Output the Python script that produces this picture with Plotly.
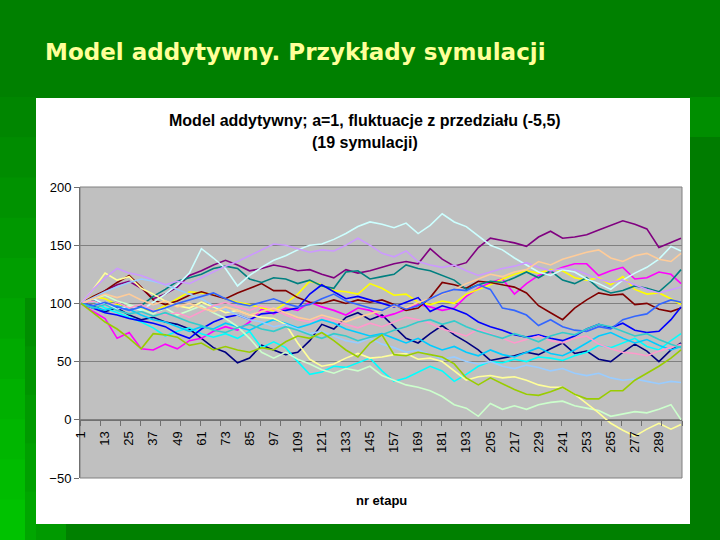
import plotly.graph_objects as go

# ---------------- data ----------------
steps = [1, 7, 13, 19, 25, 31, 37, 43, 49, 55, 61, 67, 73, 79, 85, 91, 97, 103, 109, 115,
         121, 127, 133, 139, 145, 151, 157, 163, 169, 175, 181, 187, 193, 199, 205, 211,
         217, 223, 229, 235, 241, 247, 253, 259, 265, 271, 277, 283, 289, 295, 300]

x_tick_values = [1, 13, 25, 37, 49, 61, 73, 85, 97, 109, 121, 133, 145, 157, 169, 181,
                 193, 205, 217, 229, 241, 253, 265, 277, 289]
x_tick_labels = ["1", "13", "25", "37", "49", "61", "73", "85", "97", "109", "121", "133",
                 "145", "157", "169", "181", "193", "205", "217", "229", "241", "253",
                 "265", "277", "289"]

navy = [100, 98, 93, 96, 90, 86, 88, 84, 82, 78, 70, 62, 58, 49, 53, 64, 60, 56, 58, 68,
        82, 78, 88, 92, 86, 90, 80, 70, 66, 74, 81, 73, 67, 60, 51, 53, 55, 58, 56, 61,
        66, 57, 59, 52, 50, 58, 65, 59, 50, 60, 66]
magenta = [100, 93, 87, 70, 75, 61, 60, 65, 61, 68, 70, 76, 80, 77, 84, 95, 91, 96, 94, 101,
           97, 94, 90, 96, 94, 88, 91, 95, 99, 97, 94, 96, 106, 113, 118, 121, 108, 117, 124, 127,
           131, 134, 134, 124, 128, 131, 121, 122, 127, 125, 117]
yellow = [100, 106, 104, 99, 97, 96, 93, 98, 104, 110, 109, 108, 104, 101, 99, 96, 94, 100, 108, 119,
          116, 111, 110, 108, 117, 113, 107, 108, 101, 99, 102, 100, 108, 112, 116, 121, 125, 128, 126, 129,
          128, 122, 120, 122, 116, 123, 112, 108, 109, 104, 99]
cyan = [100, 102, 96, 92, 88, 84, 79, 72, 76, 79, 74, 71, 74, 70, 76, 62, 67, 62, 50, 39,
        41, 46, 45, 49, 53, 42, 33, 36, 41, 46, 42, 33, 39, 46, 50, 49, 52, 50, 54, 53,
        51, 55, 58, 64, 62, 66, 70, 63, 60, 68, 74]
purple = [100, 104, 111, 116, 119, 113, 104, 108, 114, 124, 128, 133, 137, 133, 128, 130, 133, 131, 128, 129,
          125, 122, 129, 126, 128, 131, 134, 136, 134, 147, 138, 132, 135, 148, 156, 154, 152, 149, 157, 162,
          156, 157, 159, 163, 167, 171, 168, 164, 148, 152, 156]
dark_red = [100, 106, 111, 118, 124, 114, 103, 99, 102, 107, 110, 107, 104, 109, 113, 117, 111, 111, 105, 101,
            100, 103, 100, 103, 101, 103, 99, 94, 96, 105, 118, 116, 113, 119, 118, 116, 114, 109, 98, 92,
            86, 96, 103, 109, 107, 108, 99, 100, 95, 93, 96]
teal = [100, 103, 99, 101, 96, 98, 106, 112, 119, 122, 125, 130, 132, 130, 121, 118, 122, 121, 117, 120,
        115, 113, 127, 128, 121, 123, 125, 133, 130, 128, 124, 120, 112, 116, 119, 118, 122, 127, 122, 128,
        120, 117, 122, 113, 109, 111, 115, 113, 110, 119, 129]
blue = [100, 96, 92, 90, 87, 85, 83, 80, 74, 70, 78, 84, 88, 90, 86, 91, 92, 94, 96, 108,
        116, 110, 104, 106, 103, 100, 97, 101, 105, 93, 98, 95, 91, 84, 80, 77, 73, 71, 73, 70,
        68, 72, 78, 82, 79, 83, 77, 75, 76, 86, 97]
sky_blue = [100, 97, 94, 98, 95, 90, 86, 84, 80, 76, 80, 78, 83, 80, 77, 82, 86, 83, 79, 82,
            86, 83, 78, 75, 72, 74, 70, 66, 70, 64, 60, 63, 58, 55, 60, 56, 54, 58, 62, 57,
            55, 60, 66, 72, 75, 70, 66, 69, 64, 60, 63]
light_cyan = [100, 104, 99, 95, 98, 94, 101, 108, 116, 126, 147, 139, 130, 115, 124, 131, 137, 141, 146, 150,
              151, 155, 160, 166, 170, 168, 165, 169, 160, 167, 177, 170, 166, 158, 150, 146, 139, 133, 127, 124,
              129, 127, 121, 117, 112, 120, 126, 131, 138, 149, 145]
light_green = [100, 104, 107, 102, 99, 95, 91, 96, 90, 94, 98, 92, 87, 80, 70, 58, 53, 58, 52, 48,
               43, 40, 44, 42, 46, 38, 34, 30, 28, 25, 20, 13, 10, 3, 14, 9, 12, 9, 13, 15,
               16, 12, 10, 8, 3, 5, 7, 6, 9, 13, 0]
light_yellow = [100, 112, 126, 120, 123, 113, 108, 102, 98, 96, 101, 97, 92, 94, 90, 88, 87, 82, 66, 52,
                46, 48, 53, 57, 53, 54, 56, 57, 52, 53, 50, 42, 34, 37, 38, 36, 37, 34, 30, 28,
                28, 22, 14, 6, -3, -9, -14, -8, -3, -8, -4]
pale_blue = [100, 105, 110, 114, 118, 121, 119, 116, 112, 108, 104, 98, 95, 90, 86, 84, 80, 82, 78, 74,
             76, 72, 68, 66, 70, 65, 62, 58, 60, 56, 52, 54, 50, 48, 50, 46, 44, 47, 45, 42,
             44, 40, 38, 40, 36, 34, 35, 33, 31, 33, 32]
pink = [100, 102, 98, 101, 96, 99, 94, 90, 92, 88, 93, 98, 101, 97, 94, 98, 95, 90, 86, 84,
        88, 85, 82, 79, 83, 80, 84, 88, 86, 83, 78, 75, 72, 78, 74, 70, 66, 69, 72, 68,
        66, 70, 72, 65, 61, 58, 57, 55, 59, 62, 65]
lavender = [100, 112, 122, 130, 126, 124, 120, 116, 119, 117, 122, 127, 132, 136, 141, 146, 151, 150, 147, 144,
            146, 145, 150, 156, 150, 143, 140, 145, 136, 133, 131, 133, 128, 124, 127, 130, 132, 135, 131, 128,
            130, 129, 125, 121, 118, 120, 116, 112, 109, 112, 114]
tan = [100, 104, 108, 105, 108, 103, 99, 102, 97, 100, 96, 93, 97, 94, 90, 93, 96, 92, 88, 86,
       90, 87, 84, 88, 91, 94, 98, 96, 101, 104, 108, 112, 117, 121, 125, 123, 127, 129, 136, 133,
       138, 141, 144, 146, 139, 136, 141, 143, 138, 136, 143]
light_blue = [100, 98, 101, 97, 94, 97, 93, 96, 100, 103, 106, 109, 104, 100, 98, 101, 104, 100, 97, 99,
              104, 108, 102, 99, 96, 94, 99, 95, 98, 104, 109, 112, 111, 116, 112, 96, 94, 90, 81, 86,
              80, 77, 76, 80, 78, 86, 89, 91, 99, 103, 101]
aqua = [100, 96, 99, 94, 91, 93, 89, 92, 88, 84, 81, 77, 75, 79, 82, 78, 76, 80, 77, 73,
        70, 74, 72, 68, 71, 73, 77, 80, 84, 86, 82, 85, 80, 76, 73, 70, 74, 71, 67, 72,
        75, 73, 78, 82, 80, 76, 72, 74, 69, 65, 62]
lime = [100, 92, 84, 78, 70, 61, 74, 73, 71, 64, 66, 60, 63, 60, 58, 62, 60, 67, 72, 70,
        75, 68, 60, 54, 66, 73, 56, 55, 58, 56, 54, 48, 36, 30, 36, 31, 26, 22, 21, 24,
        28, 22, 18, 18, 25, 25, 34, 40, 46, 53, 60]

series_values = [navy, magenta, yellow, cyan, purple, dark_red, teal, blue, sky_blue,
                 light_cyan, light_green, light_yellow, pale_blue, pink, lavender, tan,
                 light_blue, aqua, lime]
series_colors = ["#000080", "#FF00FF", "#FFFF00", "#00FFFF", "#800080", "#800000",
                 "#008080", "#0000FF", "#00CCFF", "#CCFFFF", "#CCFFCC", "#FFFF99",
                 "#99CCFF", "#FF99CC", "#CC99FF", "#FFCC99", "#3366FF", "#33CCCC", "#99CC00"]
series_names = ["Seria%d" % (i + 1) for i in range(len(series_values))]

# ---------------- geometry helpers (pixel -> paper) ----------------
W, H = 720, 540
L, R, T, B = 80, 682, 187, 478


def px(x):
    return (x - L) / (R - L)


def py(y):
    return (B - y) / (B - T)


fig = go.Figure()
for name, vals, col in zip(series_names, series_values, series_colors):
    fig.add_trace(go.Scatter(x=steps, y=vals, mode="lines", name=name,
                             line=dict(color=col, width=1.6), hoverinfo="skip"))

shapes = []


def rect(x0, y0, x1, y1, color, line=None):
    d = dict(type="rect", xref="paper", yref="paper", layer="below",
             x0=px(x0), x1=px(x1), y0=py(y1), y1=py(y0), fillcolor=color,
             line=dict(width=0) if line is None else line)
    shapes.append(d)


# slide background decorations
left_greens = ["#008600", "#008c00", "#009200", "#009800", "#009e00", "#00a400",
               "#00aa00", "#00b000", "#00b600", "#00bc00", "#00c200"]
band_h = (540 - 97) / len(left_greens)
for i, c in enumerate(left_greens):
    rect(0, 97 + i * band_h, 36, 97 + (i + 1) * band_h + 1, c)
strip_greens = ["#008e00", "#009400", "#009a00", "#00a000", "#00a600"]
sh = (540 - 298) / len(strip_greens)
for i, c in enumerate(strip_greens):
    rect(25, 298 + i * sh, 36, 298 + (i + 1) * sh + 1, c)
rect(36, 524, 66, 540, "#009a00")
rect(690, 97, 720, 137, "#008e00")
rect(690, 137, 720, 540, "#007c00")

# white chart area and grey plot area
rect(36, 98, 690, 524, "#FFFFFF")
rect(L, T, R, B, "#C0C0C0", line=dict(color="#808080", width=1))

fig.update_layout(
    width=W, height=H,
    margin=dict(l=L, r=W - R, t=T, b=H - B, pad=0),
    paper_bgcolor="#008000",
    plot_bgcolor="#C0C0C0",
    showlegend=False,
    shapes=shapes,
    font=dict(family="Liberation Sans, Arial, sans-serif", color="#000000", size=13),
    xaxis=dict(
        range=[0.5, 300.5],
        tickmode="array", tickvals=x_tick_values, ticktext=x_tick_labels,
        tickangle=-90, ticks="", showgrid=False, zeroline=False,
        showline=True, linecolor="#707070", linewidth=1,
        anchor="free", position=py(420),
        ticklabelstandoff=5,
        tickfont=dict(size=13, color="#000000"),
        minor=dict(ticks="outside", ticklen=5, tickcolor="#707070", tick0=0.5, dtick=10,
                   showgrid=False),
    ),
    yaxis=dict(
        range=[-50, 200], tickmode="linear", tick0=-50, dtick=50,
        showgrid=True, gridcolor="#808080", gridwidth=1, zeroline=False,
        showline=True, linecolor="#707070", linewidth=1,
        ticks="outside", ticklen=5, tickcolor="#707070",
        tickfont=dict(size=13, color="#000000"),
    ),
    annotations=[
        dict(text="Model addytywny. Przykłady symulacji", xref="paper", yref="paper",
             x=px(43), y=py(52), xanchor="left", yanchor="middle", showarrow=False,
             font=dict(family="DejaVu Sans", size=23, color="#FFFF99", weight="bold")),
        dict(text="<b>Model addytywny; a=1, fluktuacje z przedziału (-5,5)</b>",
             xref="paper", yref="paper", x=px(365), y=py(121), xanchor="center",
             yanchor="middle", showarrow=False,
             font=dict(size=16, color="#000000")),
        dict(text="<b>(19 symulacji)</b>",
             xref="paper", yref="paper", x=px(365), y=py(142), xanchor="center",
             yanchor="middle", showarrow=False,
             font=dict(size=16, color="#000000")),
        dict(text="<b>nr etapu</b>", xref="paper", yref="paper", x=px(381), y=py(500),
             xanchor="center", yanchor="middle", showarrow=False,
             font=dict(size=13, color="#000000")),
    ],
)

fig.write_html("out.html",
               config={"displayModeBar": False, "staticPlot": True},
               post_script="document.body.style.margin='0';document.body.style.padding='0';"
                           "document.body.style.overflow='hidden';")
